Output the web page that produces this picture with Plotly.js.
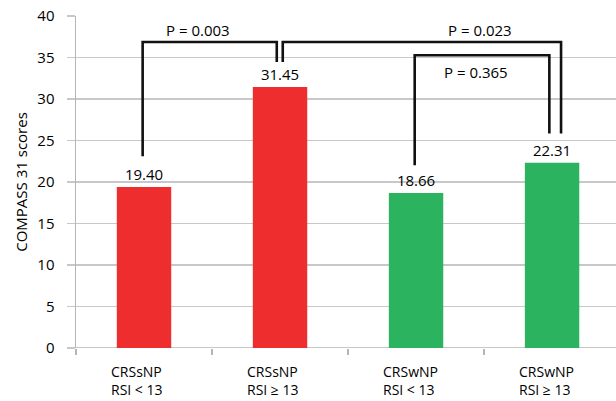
<!DOCTYPE html>
<html>
<head>
<meta charset="utf-8">
<script src="https://cdn.plot.ly/plotly-3.0.1.min.js"></script>
<style>html,body{margin:0;padding:0;background:#fff;}#chart{width:616px;height:401px;}</style>
</head>
<body>
<div id="chart"></div>
<script>
const categories = ["CRSsNP<br>RSI < 13", "CRSsNP<br>RSI ≥ 13", "CRSwNP<br>RSI < 13", "CRSwNP<br>RSI ≥ 13"];
const positions = [0, 1, 2, 3];
const scores = [19.40, 31.45, 18.66, 22.31];
const barColors = ["#ee2d2e", "#ee2d2e", "#2bb35f", "#2bb35f"];
const yTicks = [0, 5, 10, 15, 20, 25, 30, 35, 40];
const boundaryTicks = [-0.5, 0.5, 1.5, 2.5];

// significance brackets
const bracketX1 = [-0.01, 1.02, 1.99];
const bracketX2 = [0.976, 3.066, 2.98];
const bracketTop = [36.87, 36.87, 35.27];
const bracketLeftBottom = [23.1, 34.46, 22.01];
const bracketRightBottom = [34.46, 25.83, 25.83];
const pLabels = ["P = 0.003", "P = 0.023", "P = 0.365"];
const pLabelX = [0.4, 2.47, 2.44];
const pLabelY = [38.3, 38.3, 33.25];

const FONT = "'Open Sans', 'Noto Sans', sans-serif";

const traces = [{
  type: "bar",
  x: positions,
  y: scores,
  width: 0.4,
  marker: {color: barColors, line: {width: 0}},
  text: scores.map(v => v.toFixed(2)),
  textposition: "outside",
  cliponaxis: false,
  textfont: {family: FONT, size: 15, color: "#000"},
  hoverinfo: "none"
}];

for (let i = 0; i < bracketX1.length; i++) {
  traces.push({
    type: "scatter",
    mode: "lines",
    x: [bracketX1[i], bracketX1[i], bracketX2[i], bracketX2[i]],
    y: [bracketLeftBottom[i], bracketTop[i], bracketTop[i], bracketRightBottom[i]],
    line: {color: "#111", width: 2.6},
    hoverinfo: "none",
    cliponaxis: false
  });
}

const annotations = pLabels.map((t, i) => ({
  x: pLabelX[i], y: pLabelY[i], xref: "x", yref: "y",
  text: t, showarrow: false,
  font: {family: FONT, size: 15, color: "#000"}
}));

categories.forEach((c, i) => {
  annotations.push({
    x: positions[i] - 0.26, y: -0.036, xref: "x", yref: "paper",
    xanchor: "left", yanchor: "top", align: "left",
    text: c, showarrow: false,
    font: {family: FONT, size: 14, color: "#000"}
  });
});

const layout = {
  width: 616, height: 401,
  margin: {l: 76, r: 0, t: 16, b: 53},
  paper_bgcolor: "#fff", plot_bgcolor: "#fff",
  showlegend: false,
  xaxis: {
    range: [-0.5, 3.47],
    tickmode: "array",
    tickvals: positions,
    showticklabels: false,
    ticks: "",
    showgrid: false,
    zeroline: false,
    showline: false,
    minor: {tickmode: "array", tickvals: boundaryTicks, ticks: "outside", ticklen: 6, tickcolor: "#b5b5b5", tickwidth: 1.5, showgrid: false},
    fixedrange: true
  },
  yaxis: {
    range: [0, 40],
    tickmode: "array",
    tickvals: yTicks,
    ticks: "outside",
    ticklen: 8,
    tickcolor: "#c8c8c8",
    tickwidth: 1.5,
    ticklabelstandoff: 9,
    showgrid: true,
    gridcolor: "#c8c8c8",
    gridwidth: 1.5,
    zeroline: false,
    showline: true,
    linecolor: "#b5b5b5",
    linewidth: 1.5,
    tickfont: {family: FONT, size: 15, color: "#000"},
    title: {text: "COMPASS 31 scores", font: {family: FONT, size: 15, color: "#000"}, standoff: 6},
    fixedrange: true
  },
  annotations: annotations,
  shapes: [{type: "line", xref: "paper", yref: "y", x0: 0, x1: 1, y0: 0, y1: 0, line: {color: "#b5b5b5", width: 1.5}, layer: "below"}]
};

Plotly.newPlot("chart", traces, layout, {displayModeBar: false, staticPlot: true});
</script>
</body>
</html>
